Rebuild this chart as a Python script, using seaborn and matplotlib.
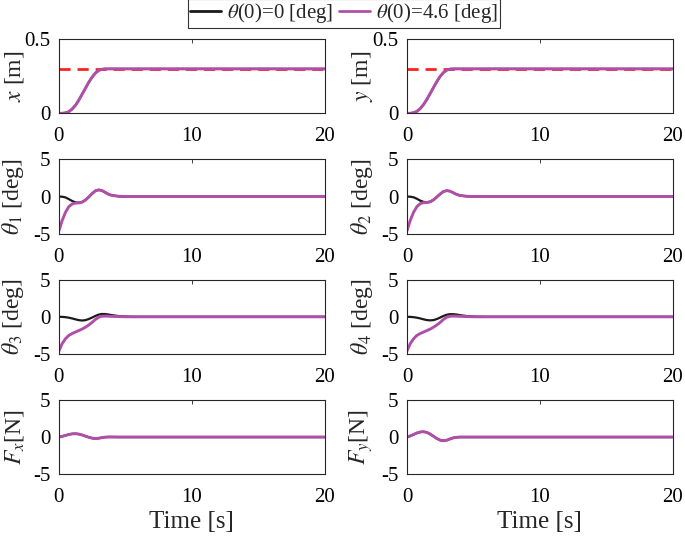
import numpy as np
import pandas as pd
import matplotlib
matplotlib.use("Agg")
import matplotlib.pyplot as plt
import seaborn as sns
from matplotlib.lines import Line2D

sns.set_style("white")
plt.rcParams['font.family'] = ['Liberation Serif', 'DejaVu Serif']
plt.rcParams['mathtext.fontset'] = 'stix'
plt.rcParams['axes.unicode_minus'] = False

# ---- data ----
t = [0, 0.25, 0.5, 0.75, 1.0, 1.25, 1.5, 1.75, 2.0, 2.25, 2.5, 2.75, 3.0,
     3.25, 3.5, 3.75, 4.0, 4.5, 5.0, 5.5, 6.0, 8.0, 20.0]

x_ref = 0.3
x_pos = [0, 0.001, 0.004, 0.012, 0.03, 0.055, 0.09, 0.13, 0.17, 0.21, 0.245,
         0.272, 0.29, 0.298, 0.3, 0.3, 0.3, 0.3, 0.3, 0.3, 0.3, 0.3, 0.3]
y_pos = [0, 0.001, 0.005, 0.014, 0.033, 0.06, 0.095, 0.135, 0.175, 0.215, 0.25,
         0.276, 0.292, 0.299, 0.3, 0.3, 0.3, 0.3, 0.3, 0.3, 0.3, 0.3, 0.3]

th1_a = [0, -0.02, -0.12, -0.35, -0.6, -0.78, -0.82, -0.72, -0.45, -0.05, 0.4,
         0.78, 0.9, 0.8, 0.55, 0.3, 0.15, 0.04, 0.0, 0, 0, 0, 0]
th1_b = [-4.6, -3.2, -2.1, -1.35, -1.0, -0.88, -0.86, -0.76, -0.47, -0.06, 0.4,
         0.78, 0.9, 0.8, 0.55, 0.3, 0.15, 0.04, 0.0, 0, 0, 0, 0]
th2_a = [0, -0.02, -0.1, -0.3, -0.55, -0.72, -0.76, -0.68, -0.42, -0.05, 0.35,
         0.68, 0.8, 0.72, 0.5, 0.28, 0.14, 0.04, 0.0, 0, 0, 0, 0]
th2_b = [-4.6, -3.2, -2.1, -1.35, -0.95, -0.82, -0.8, -0.72, -0.45, -0.06, 0.35,
         0.68, 0.8, 0.72, 0.5, 0.28, 0.14, 0.04, 0.0, 0, 0, 0, 0]
th3_a = [0, -0.01, -0.05, -0.12, -0.22, -0.34, -0.45, -0.5, -0.45, -0.3, -0.1,
         0.12, 0.3, 0.38, 0.37, 0.3, 0.22, 0.1, 0.04, 0.01, 0, 0, 0]
th3_b = [-4.6, -3.6, -2.95, -2.5, -2.25, -2.05, -1.85, -1.65, -1.4, -1.1, -0.75,
         -0.35, -0.05, 0.08, 0.1, 0.08, 0.06, 0.03, 0.01, 0, 0, 0, 0]
th4_a = [0, -0.01, -0.05, -0.12, -0.22, -0.34, -0.44, -0.48, -0.44, -0.3, -0.1,
         0.12, 0.28, 0.36, 0.35, 0.3, 0.22, 0.1, 0.04, 0.01, 0, 0, 0]
th4_b = [-4.6, -3.6, -2.95, -2.5, -2.25, -2.05, -1.85, -1.65, -1.4, -1.1, -0.75,
         -0.35, -0.05, 0.08, 0.1, 0.08, 0.06, 0.03, 0.01, 0, 0, 0, 0]
fx = [0, 0.1, 0.22, 0.35, 0.43, 0.45, 0.4, 0.28, 0.12, -0.03, -0.15, -0.2,
      -0.16, -0.07, -0.01, 0.01, 0.01, 0, 0, 0, 0, 0, 0]
fy = [0, 0.15, 0.35, 0.55, 0.68, 0.72, 0.62, 0.4, 0.1, -0.2, -0.42, -0.5,
      -0.42, -0.25, -0.1, -0.03, 0, 0, 0, 0, 0, 0, 0]

legend_labels = [r'$\theta$(0)=0 [deg]', r'$\theta$(0)=4.6 [deg]']
xticks = [0, 10, 20]

panels = [
    (x_pos, x_pos, r'$x$ [m]', [0, 0.5], ['0', '0.5'], (0, 0.5), True),
    (y_pos, y_pos, r'$y$ [m]', [0, 0.5], ['0', '0.5'], (0, 0.5), True),
    (th1_a, th1_b, r'$\theta_1$ [deg]', [-5, 0, 5], ['-5', '0', '5'], (-5, 5), False),
    (th2_a, th2_b, r'$\theta_2$ [deg]', [-5, 0, 5], ['-5', '0', '5'], (-5, 5), False),
    (th3_a, th3_b, r'$\theta_3$ [deg]', [-5, 0, 5], ['-5', '0', '5'], (-5, 5), False),
    (th4_a, th4_b, r'$\theta_4$ [deg]', [-5, 0, 5], ['-5', '0', '5'], (-5, 5), False),
    (fx, fx, r'$F_x$[N]', [-5, 0, 5], ['-5', '0', '5'], (-5, 5), False),
    (fy, fy, r'$F_y$[N]', [-5, 0, 5], ['-5', '0', '5'], (-5, 5), False),
]

black = '#1a1a1a'
purple = '#b04fa8'
red = '#ff2020'

fig, axes = plt.subplots(4, 2, figsize=(6.85, 5.37), dpi=100)
fig.subplots_adjust(left=0.086, right=0.982, top=0.927, bottom=0.117,
                    wspace=0.31, hspace=0.62)

for ax, (a, b, lab, yt, ytl, ylim, ref) in zip(axes.flat, panels):
    if ref:
        sns.lineplot(x=[0, 20], y=[x_ref, x_ref], ax=ax, color=red, lw=2.0,
                     linestyle=(0, (4, 2.5)), estimator=None)
    sns.lineplot(x=t, y=a, ax=ax, color=black, lw=1.6, estimator=None, sort=False)
    sns.lineplot(x=t, y=b, ax=ax, color=purple, lw=2.1, estimator=None, sort=False)
    ax.set_xlim(0, 20)
    ax.set_ylim(*ylim)
    ax.set_xticks(xticks)
    ax.set_xticklabels([str(v) for v in xticks])
    ax.set_yticks(yt)
    ax.set_yticklabels(ytl)
    ax.set_xlabel('')
    ax.set_ylabel(lab, fontsize=17)
    ax.yaxis.set_label_coords(-0.122, 0.5)
    ax.tick_params(direction='in', length=3, width=0.6, labelsize=15,
                   top=True, right=True, colors='#262626', labelcolor='black')
    ax.tick_params(axis='x', pad=10)
    ax.tick_params(axis='y', pad=6)
    for s in ax.spines.values():
        s.set_color('#262626')
        s.set_linewidth(0.8)

for ax in axes[-1]:
    ax.set_xlabel('Time [s]', fontsize=18, labelpad=3)

handles = [Line2D([], [], color=black, lw=2.0), Line2D([], [], color=purple, lw=2.0)]
leg = fig.legend(handles, legend_labels, loc='upper center', ncol=2,
                 bbox_to_anchor=(0.502, 1.002), frameon=True, fancybox=False,
                 fontsize=15, handlelength=1.5, handletextpad=0.25,
                 columnspacing=0.3, borderpad=0.12, borderaxespad=0.0)
leg.get_frame().set_edgecolor('black')
leg.get_frame().set_linewidth(0.8)

fig.savefig('out.png', dpi=100)
